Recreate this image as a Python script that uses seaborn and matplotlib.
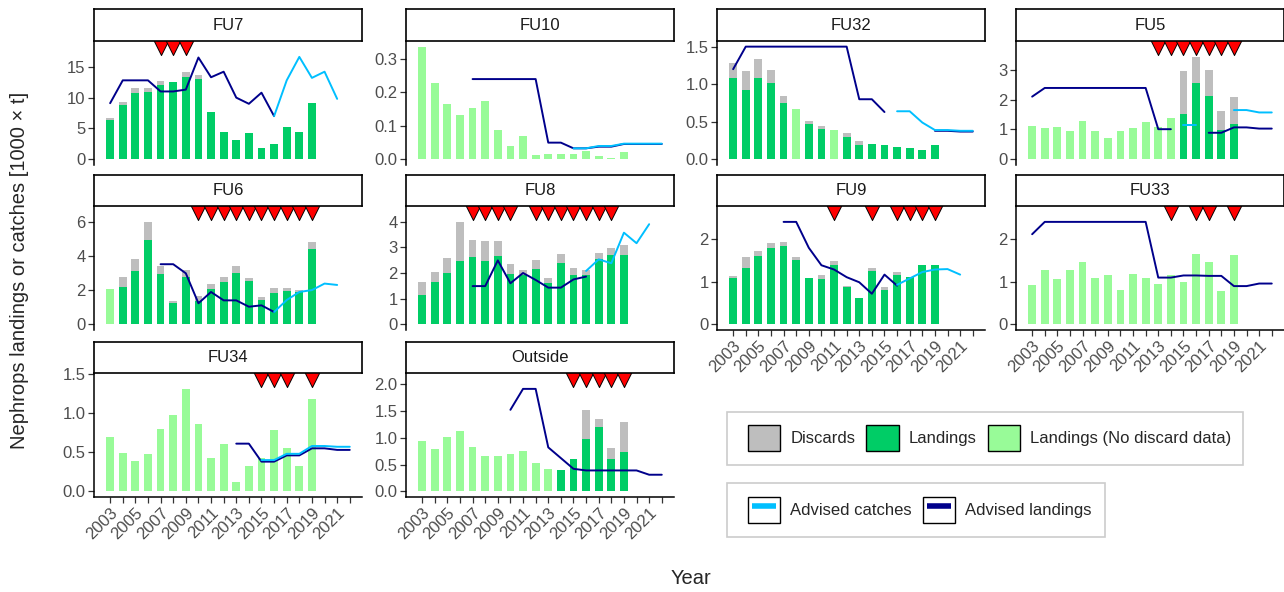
import numpy as np
import pandas as pd
import matplotlib
matplotlib.use("Agg")
import matplotlib.pyplot as plt
import seaborn as sns
from matplotlib.patches import Patch, Rectangle
from matplotlib.lines import Line2D
from matplotlib.legend_handler import HandlerTuple
from matplotlib.ticker import MultipleLocator, FormatStrFormatter

nan = np.nan

bar_years = list(range(2003, 2020))
adv_years = list(range(2003, 2023))

# ---- data (1000 t) ----
fu7_land = [6.3, 8.8, 10.8, 10.9, 12.0, 12.5, 13.4, 13.0, 7.6, 4.5, 3.1, 4.3, 1.9, 2.5, 5.3, 4.5, 9.1]
fu7_disc = [0.4, 0.5, 0.7, 0.6, 0.7, 0.1, 0.7, 0.6, 0, 0, 0, 0, 0, 0, 0, 0, 0]
fu7_nodisc = []
fu7_adv_land = [9.1, 12.8, 12.8, 12.8, 11.0, 11.0, 11.3, 16.5, 13.3, 14.2, 10.0, 9.0, 10.8, 7.0, nan, nan, nan, nan, nan, nan]
fu7_adv_catch = [nan] * 13 + [7.0, 12.8, 16.6, 13.2, 14.2, 9.8, nan]
fu7_flags = [2007, 2008, 2009]

fu10_land = [0.337, 0.229, 0.165, 0.134, 0.154, 0.173, 0.088, 0.040, 0.069, 0.014, 0.017, 0.017, 0.017, 0.024, 0.010, 0.005, 0.022]
fu10_disc = [0] * 17
fu10_nodisc = bar_years
fu10_adv_land = [nan] * 4 + [0.24] * 6 + [0.05, 0.05, 0.033, 0.033, 0.038, 0.038, 0.046, 0.046, 0.046, 0.046]
fu10_adv_catch = [nan] * 12 + [0.033, 0.033, 0.040, 0.040, 0.047, 0.047, 0.047, 0.047]
fu10_flags = []

fu32_land = [1.08, 0.92, 1.08, 1.02, 0.75, 0.67, 0.47, 0.41, 0.39, 0.30, 0.19, 0.20, 0.19, 0.17, 0.15, 0.13, 0.19]
fu32_disc = [0.20, 0.26, 0.25, 0.17, 0.09, 0, 0.04, 0.04, 0, 0.05, 0.06, 0, 0, 0, 0, 0, 0]
fu32_nodisc = [2008, 2011]
fu32_adv_land = [1.2] + [1.5] * 9 + [0.8, 0.8, 0.63, nan, nan, nan, 0.38, 0.38, 0.37, 0.37]
fu32_adv_catch = [nan] * 13 + [0.64, 0.64, 0.49, 0.39, 0.39, 0.38, 0.38]
fu32_flags = []

fu5_land = [1.12, 1.06, 1.09, 0.96, 1.29, 0.96, 0.71, 0.96, 1.04, 1.24, 1.09, 1.40, 1.51, 2.55, 2.11, 0.99, 1.18]
fu5_disc = [0] * 12 + [1.44, 0.88, 0.89, 0.64, 0.90]
fu5_nodisc = list(range(2003, 2015))
fu5_adv_land = [2.1] + [2.39] * 9 + [1.01, 1.01, nan, nan, 0.89, 0.89, 1.07, 1.07, 1.03, 1.03]
fu5_adv_catch = [nan] * 12 + [1.15, 1.15, nan, nan, 1.65, 1.65, 1.57, 1.57]
fu5_flags = list(range(2013, 2020))

fu6_land = [2.09, 2.18, 3.10, 4.91, 2.96, 1.23, 2.77, 1.36, 2.05, 2.48, 2.98, 2.53, 1.40, 1.85, 1.95, 1.89, 4.39]
fu6_disc = [0, 0.59, 0.70, 1.07, 0.45, 0.13, 0.41, 0.30, 0.29, 0.31, 0.43, 0.20, 0.20, 0.25, 0.15, 0.10, 0.42]
fu6_nodisc = [2003]
fu6_adv_land = [nan] * 4 + [3.51, 3.51, 2.98, 1.23, 1.89, 1.40, 1.40, 1.03, 1.11, 0.72] + [nan] * 6
fu6_adv_catch = [nan] * 13 + [0.72, 1.42, 1.89, 2.0, 2.38, 2.3, nan]
fu6_flags = list(range(2010, 2020))

fu8_land = [1.13, 1.66, 1.99, 2.47, 2.64, 2.45, 2.66, 1.95, 1.91, 2.14, 1.62, 2.38, 1.91, 1.91, 2.53, 2.69, 2.69]
fu8_disc = [0.53, 0.39, 0.61, 1.52, 0.63, 0.80, 0.59, 0.40, 0.19, 0.37, 0.20, 0.35, 0.30, 0.19, 0.24, 0.30, 0.40]
fu8_nodisc = []
fu8_adv_land = [nan] * 4 + [1.49, 1.49, 2.49, 1.60, 2.0, 1.73, 1.43, 1.43, 1.75, 1.86] + [nan] * 6
fu8_adv_catch = [nan] * 13 + [2.08, 2.53, 2.38, 3.57, 3.16, 3.9, nan]
fu8_flags = [2007, 2008, 2009, 2010] + list(range(2012, 2019))

fu9_land = [1.08, 1.33, 1.60, 1.80, 1.84, 1.51, 1.08, 1.07, 1.39, 0.87, 0.62, 1.25, 0.81, 1.15, 1.11, 1.39, 1.39]
fu9_disc = [0.05, 0.26, 0.12, 0.12, 0.10, 0.07, 0.01, 0.10, 0.10, 0.04, 0, 0.08, 0.06, 0.08, 0, 0, 0]
fu9_nodisc = []
fu9_adv_land = [nan] * 4 + [2.41, 2.41, 1.80, 1.39, 1.29, 1.11, 0.99, 0.72, 1.17, 0.91] + [nan] * 6
fu9_adv_catch = [nan] * 13 + [0.93, 1.08, 1.23, 1.29, 1.30, 1.17, nan]
fu9_flags = [2011, 2014, 2016, 2017, 2018, 2019]

fu33_land = [0.93, 1.27, 1.06, 1.29, 1.47, 1.10, 1.16, 0.81, 1.19, 1.08, 0.94, 1.15, 1.00, 1.65, 1.47, 0.78, 1.62]
fu33_disc = [0] * 17
fu33_nodisc = bar_years
fu33_adv_land = [2.12] + [2.41] * 9 + [1.10, 1.10, 1.15, 1.15, 1.14, 1.14, 0.90, 0.90, 0.96, 0.96]
fu33_adv_catch = [nan] * 20
fu33_flags = [2014, 2016, 2017, 2019]

fu34_land = [0.69, 0.49, 0.39, 0.48, 0.80, 0.98, 1.31, 0.86, 0.43, 0.60, 0.12, 0.32, 0.43, 0.78, 0.55, 0.32, 1.18]
fu34_disc = [0] * 17
fu34_nodisc = bar_years
fu34_adv_land = [nan] * 10 + [0.61, 0.61, 0.38, 0.38, 0.46, 0.46, 0.55, 0.55, 0.53, 0.53]
fu34_adv_catch = [nan] * 12 + [0.40, 0.40, 0.48, 0.48, 0.58, 0.58, 0.57, 0.57]
fu34_flags = [2015, 2016, 2017, 2019]

out_land = [0.94, 0.79, 1.01, 1.13, 0.82, 0.65, 0.66, 0.70, 0.76, 0.53, 0.42, 0.39, 0.61, 0.98, 1.20, 0.61, 0.73]
out_disc = [0] * 13 + [0.54, 0.14, 0.19, 0.56]
out_nodisc = list(range(2003, 2014))
out_adv_land = [nan] * 7 + [1.52, 1.91, 1.91, 0.82, 0.62, 0.42, 0.39, 0.39, 0.39, 0.39, 0.39, 0.31, 0.31]
out_adv_catch = [nan] * 20
out_flags = list(range(2015, 2020))

GREY = "#BEBEBE"
DARK = "#00CD66"
LIGHT = "#98FB98"
CATCH = "#00BFFF"
ADVL = "#00008B"

sns.set_theme(style="ticks")
plt.rcParams["font.family"] = ["Liberation Sans", "DejaVu Sans"]

W, H = 1284, 592
fig = plt.figure(figsize=(W / 100, H / 100), dpi=100)

col_left = [94, 406, 717, 1016]
panel_top = [41, 206, 373]
strip_top = [9, 175, 342]
PW, PH = 268, 124

# name, data..., y tick step, row, col, has x axis
panels = [
    ("FU7", fu7_land, fu7_disc, fu7_nodisc, fu7_adv_land, fu7_adv_catch, fu7_flags, 5, 0, 0, False),
    ("FU10", fu10_land, fu10_disc, fu10_nodisc, fu10_adv_land, fu10_adv_catch, fu10_flags, 0.1, 0, 1, False),
    ("FU32", fu32_land, fu32_disc, fu32_nodisc, fu32_adv_land, fu32_adv_catch, fu32_flags, 0.5, 0, 2, False),
    ("FU5", fu5_land, fu5_disc, fu5_nodisc, fu5_adv_land, fu5_adv_catch, fu5_flags, 1, 0, 3, False),
    ("FU6", fu6_land, fu6_disc, fu6_nodisc, fu6_adv_land, fu6_adv_catch, fu6_flags, 2, 1, 0, False),
    ("FU8", fu8_land, fu8_disc, fu8_nodisc, fu8_adv_land, fu8_adv_catch, fu8_flags, 1, 1, 1, False),
    ("FU9", fu9_land, fu9_disc, fu9_nodisc, fu9_adv_land, fu9_adv_catch, fu9_flags, 1, 1, 2, True),
    ("FU33", fu33_land, fu33_disc, fu33_nodisc, fu33_adv_land, fu33_adv_catch, fu33_flags, 1, 1, 3, True),
    ("FU34", fu34_land, fu34_disc, fu34_nodisc, fu34_adv_land, fu34_adv_catch, fu34_flags, 0.5, 2, 0, True),
    ("Outside", out_land, out_disc, out_nodisc, out_adv_land, out_adv_catch, out_flags, 0.5, 2, 1, True),
]


def draw_line(ax, values, color):
    s = pd.Series(values, dtype=float)
    df = pd.DataFrame({"year": adv_years, "val": s.values, "seg": s.isna().cumsum().values}).dropna()
    if df.empty:
        return
    sns.lineplot(data=df, x="year", y="val", units="seg", estimator=None,
                 color=color, lw=1.4, ax=ax, legend=False)


for name, land, disc, nodisc, adv_l, adv_c, flags, step, r, c, xaxis in panels:
    ax = fig.add_axes([col_left[c] / W, 1 - (panel_top[r] + PH) / H, PW / W, PH / H])
    df = pd.DataFrame({"year": bar_years, "land": land, "disc": disc})
    df["total"] = df["land"] + df["disc"]
    df["kind"] = np.where(df["year"].isin(nodisc), "nodisc", "land")

    sns.barplot(data=df, x="year", y="total", color=GREY, native_scale=True, width=0.62,
                errorbar=None, saturation=1, linewidth=0, ax=ax)
    sns.barplot(data=df, x="year", y="land", hue="kind", palette={"land": DARK, "nodisc": LIGHT},
                native_scale=True, width=0.62, errorbar=None, saturation=1, linewidth=0,
                dodge=False, legend=False, ax=ax)
    draw_line(ax, adv_l, ADVL)
    draw_line(ax, adv_c, CATCH)

    top = np.nanmax([df["total"].max(), np.nanmax(np.array(adv_l, float)),
                     np.nanmax(np.append(np.array(adv_c, float), 0))])
    if flags:
        top *= 1.1
        sns.scatterplot(x=flags, y=[top] * len(flags), marker="v", s=135, color="red",
                        edgecolor="black", linewidth=0.7, ax=ax, legend=False, zorder=5, clip_on=False)

    ax.set_ylim(-0.05 * top, 1.05 * top)
    ax.set_xlim(2001.72, 2022.97)
    ax.yaxis.set_major_locator(MultipleLocator(step))
    ax.yaxis.set_major_formatter(FormatStrFormatter("%.1f" if step < 1 else "%d"))
    ax.set(xlabel="", ylabel="")
    sns.despine(ax=ax)
    for sp in ax.spines.values():
        sp.set_linewidth(1.1)
        sp.set_color("black")
    ax.tick_params(axis="both", length=4, width=0.9, color="#333333", labelcolor="#4D4D4D",
                   labelsize=12, pad=2)
    if xaxis:
        ax.set_xticks(adv_years)
        ax.set_xticklabels([str(y) if y % 2 == 1 else "" for y in adv_years],
                           rotation=45, ha="right", va="top", rotation_mode="anchor")
    else:
        ax.spines["bottom"].set_visible(False)
        ax.tick_params(axis="x", bottom=False, labelbottom=False)

    # facet strip
    sax = fig.add_axes([col_left[c] / W, 1 - panel_top[r] / H, PW / W, (panel_top[r] - strip_top[r]) / H])
    sax.set_xticks([])
    sax.set_yticks([])
    for sp in sax.spines.values():
        sp.set_linewidth(1.2)
        sp.set_color("black")
    sax.set_facecolor("white")
    sax.text(0.5, 0.5, name, ha="center", va="center", fontsize=12, color="#1A1A1A",
             transform=sax.transAxes)

# axis titles
fig.text(20 / W, 1 - 270 / H, "Nephrops landings or catches [1000 \u00d7 t]", rotation=90,
         ha="center", va="center", fontsize=14.5)
fig.text(691 / W, 1 - 578 / H, "Year", ha="center", va="center", fontsize=14.5)

# legends
fig.add_artist(Rectangle((727 / W, 1 - 465 / H), (1243 - 727) / W, (465 - 412) / H,
                         transform=fig.transFigure, facecolor="white", edgecolor="#CCCCCC", lw=1.2, zorder=1))
fig.add_artist(Rectangle((727 / W, 1 - 537 / H), (1105 - 727) / W, (537 - 483) / H,
                         transform=fig.transFigure, facecolor="white", edgecolor="#CCCCCC", lw=1.2, zorder=1))

bar_handles = [Patch(facecolor=GREY, edgecolor="black", lw=1),
               Patch(facecolor=DARK, edgecolor="black", lw=1),
               Patch(facecolor=LIGHT, edgecolor="black", lw=1)]
leg1 = fig.legend(bar_handles, ["Discards", "Landings", "Landings (No discard data)"],
                  loc="center left", bbox_to_anchor=(748 / W, 1 - 438 / H), ncol=3, frameon=False,
                  borderpad=0, borderaxespad=0, handlelength=1.95, handleheight=1.95,
                  handletextpad=0.6, columnspacing=0.65, fontsize=12)

line_handles = [(Patch(facecolor="white", edgecolor="black", lw=1),
                 Line2D([], [], color=CATCH, lw=0, marker="_", markersize=17, markeredgewidth=4)),
                (Patch(facecolor="white", edgecolor="black", lw=1),
                 Line2D([], [], color=ADVL, lw=0, marker="_", markersize=17, markeredgewidth=4))]
leg2 = fig.legend(line_handles, ["Advised catches", "Advised landings"],
                  loc="center left", bbox_to_anchor=(748 / W, 1 - 510 / H), ncol=2, frameon=False,
                  borderpad=0, borderaxespad=0, handlelength=1.95, handleheight=1.95,
                  handletextpad=0.6, columnspacing=0.65, fontsize=12, numpoints=1,
                  handler_map={tuple: HandlerTuple(ndivide=1, pad=0)})

fig.savefig("out.png", dpi=100, facecolor="white")
